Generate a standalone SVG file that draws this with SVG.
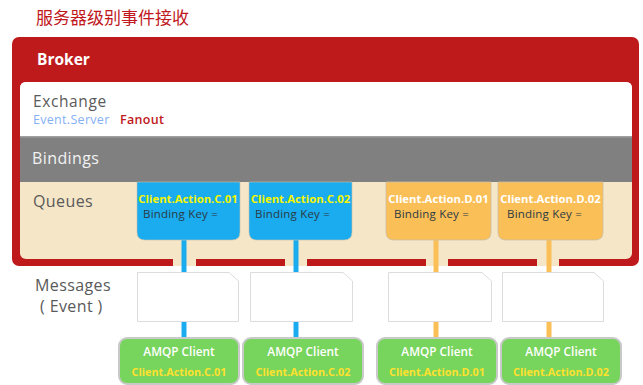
<svg xmlns="http://www.w3.org/2000/svg" width="643" height="385" viewBox="0 0 643 385">
<style>
text{font-family:"Open Sans","Noto Sans","Noto Sans CJK SC",sans-serif}
.lbl{font-size:16px;letter-spacing:0.4px;fill:#5a5a5a}
.qname{font-size:11.3px;font-weight:bold;text-anchor:middle}
.bk{font-size:11.5px;letter-spacing:0.2px;fill:#2b3a44}
.msg{fill:#ffffff;stroke:#dcdcdc;stroke-width:1}
.cl{fill:#77d45c;stroke:#c9c9c9;stroke-width:2}
.amqp{font-size:11.8px;font-weight:600;fill:#ffffff;text-anchor:middle}
.cname{font-size:10.8px;font-weight:bold;fill:#ffe12e;text-anchor:middle}
.blue{stroke:#1aacef;stroke-width:5}
.orng{stroke:#fbbf57;stroke-width:5}
.gap{fill:#f5e6c8}
</style>
<text x="36" y="24" font-size="17" fill="#c0181c" font-family="'Noto Sans CJK SC',sans-serif">服务器级别事件接收</text>

<g id="broker">
<rect x="12" y="37" width="627" height="229" rx="7" fill="#be1a1c"/>
<text x="37" y="64.5" font-size="15.5" font-weight="bold" fill="#ffffff">Broker</text>
<rect x="20" y="82" width="612" height="177" rx="6" fill="#f5e6c8"/>
<path d="M20,137 V88 Q20,82 26,82 H626 Q632,82 632,88 V137 Z" fill="#ffffff"/>
<rect x="20" y="137" width="612" height="45" fill="#808080"/>
<rect x="20" y="136" width="612" height="1.5" fill="#a0a0a0"/>
</g>

<g id="exchange">
<text x="33" y="107" font-size="15.5" letter-spacing="0.6" fill="#5a5a5a">Exchange</text>
<text x="33" y="124" font-size="12.5" letter-spacing="0.3" fill="#86b0f5">Event.Server</text>
<text x="120" y="124" font-size="12.5" font-weight="600" letter-spacing="0.3" fill="#c0181c">Fanout</text>
</g>
<g id="bindings"><text x="32" y="164" font-size="16" letter-spacing="0.4" fill="#f2f2f2">Bindings</text></g>
<g id="queues-label"><text class="lbl" x="33" y="207">Queues</text></g>
<g id="messages-label">
<text class="lbl" x="35" y="291">Messages</text>
<text class="lbl" x="40" y="312">( Event )</text>
</g>

<g id="connectors">
<rect class="gap" x="173" y="258" width="23" height="8"/>
<rect class="gap" x="285" y="258" width="22" height="8"/>
<rect class="gap" x="426" y="258" width="22" height="8"/>
<rect class="gap" x="537" y="258" width="22" height="8"/>
<line class="blue" x1="184" y1="238" x2="184" y2="338"/>
<line class="blue" x1="296" y1="238" x2="296" y2="338"/>
<line class="orng" x1="436" y1="238" x2="436" y2="338"/>
<line class="orng" x1="549" y1="238" x2="549" y2="338"/>
</g>

<g id="q-c01">
<path d="M137,182 H240 V232 Q240,240 232,240 H145 Q137,240 137,232 Z" fill="#1aacef" stroke="#c9bfa6" stroke-opacity="0.6"/>
<text class="qname" x="188" y="203" fill="#f4f400">Client.Action.C.01</text>
<text class="bk" x="143" y="218">Binding Key =</text>
</g>
<g id="q-c02">
<path d="M249,182 H352 V232 Q352,240 344,240 H257 Q249,240 249,232 Z" fill="#1aacef" stroke="#c9bfa6" stroke-opacity="0.6"/>
<text class="qname" x="300.5" y="203" fill="#f4f400">Client.Action.C.02</text>
<text class="bk" x="255" y="218">Binding Key =</text>
</g>
<g id="q-d01">
<path d="M386,182 H491 V232 Q491,240 483,240 H394 Q386,240 386,232 Z" fill="#fbbf57" stroke="#c9bfa6" stroke-opacity="0.8"/>
<text class="qname" x="438.5" y="203" fill="#ffffff">Client.Action.D.01</text>
<text class="bk" x="394" y="218">Binding Key =</text>
</g>
<g id="q-d02">
<path d="M498,182 H603 V232 Q603,240 595,240 H506 Q498,240 498,232 Z" fill="#fbbf57" stroke="#c9bfa6" stroke-opacity="0.8"/>
<text class="qname" x="550.5" y="203" fill="#ffffff">Client.Action.D.02</text>
<text class="bk" x="507" y="218">Binding Key =</text>
</g>

<g id="m-c01"><path class="msg" d="M137.5,272.5 H229 L238.5,281 V321.5 H137.5 Z"/></g>
<g id="m-c02"><path class="msg" d="M250.5,272.5 H343 L352.5,281 V321.5 H250.5 Z"/></g>
<g id="m-d01"><path class="msg" d="M388.5,272.5 H482 L491.5,281 V321.5 H388.5 Z"/></g>
<g id="m-d02"><path class="msg" d="M502.5,272.5 H594 L603.5,281 V321.5 H502.5 Z"/></g>

<g id="c-c01">
<rect class="cl" x="119" y="338" width="120" height="46" rx="8"/>
<text class="amqp" x="179" y="356">AMQP Client</text>
<text class="cname" x="179" y="376">Client.Action.C.01</text>
</g>
<g id="c-c02">
<rect class="cl" x="243" y="338" width="120" height="46" rx="8"/>
<text class="amqp" x="303" y="356">AMQP Client</text>
<text class="cname" x="303" y="376">Client.Action.C.02</text>
</g>
<g id="c-d01">
<rect class="cl" x="377" y="338" width="120" height="46" rx="8"/>
<text class="amqp" x="437" y="356">AMQP Client</text>
<text class="cname" x="437" y="376">Client.Action.D.01</text>
</g>
<g id="c-d02">
<rect class="cl" x="501" y="338" width="120" height="46" rx="8"/>
<text class="amqp" x="561" y="356">AMQP Client</text>
<text class="cname" x="561" y="376">Client.Action.D.02</text>
</g>
</svg>
